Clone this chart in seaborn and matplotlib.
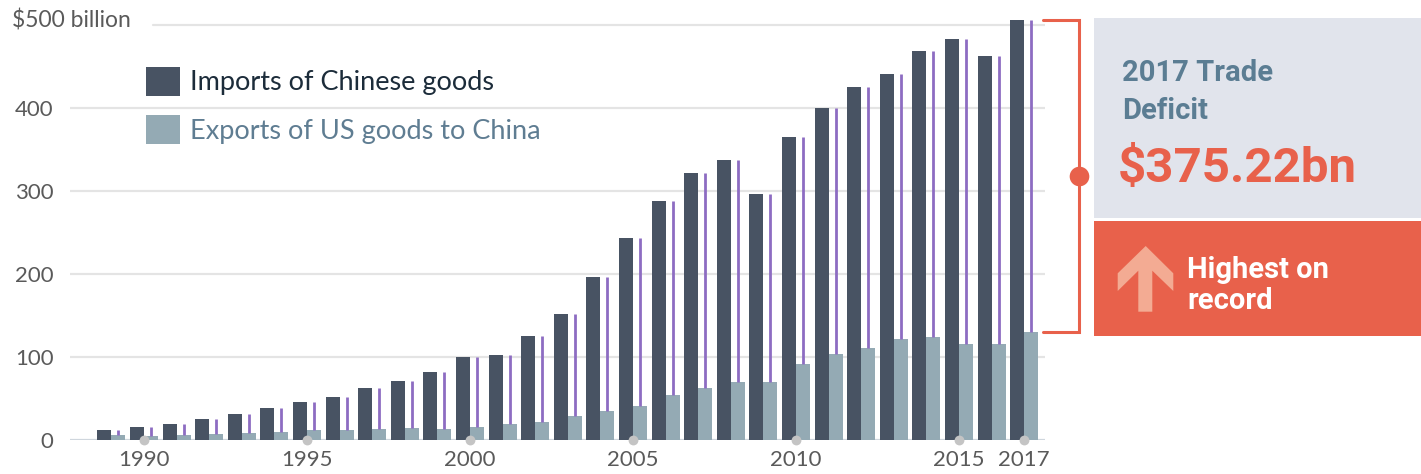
import matplotlib
matplotlib.use("Agg")
import matplotlib.pyplot as plt
import matplotlib.transforms as mtransforms
from matplotlib.patches import Patch, Rectangle, Polygon
import pandas as pd
import seaborn as sns

# US goods trade with China, $ billion
years = list(range(1989, 2018))
imports = [12.0, 15.2, 19.0, 25.7, 31.5, 38.8, 45.5, 51.5, 62.6, 71.2,
           81.8, 100.0, 102.3, 125.2, 152.4, 196.7, 243.5, 287.8, 321.4, 337.8,
           296.4, 364.9, 399.4, 425.6, 440.4, 468.5, 483.2, 462.4, 505.47]
exports = [5.8, 4.8, 6.3, 7.4, 8.8, 9.3, 11.8, 12.0, 12.9, 14.2,
           13.1, 16.2, 19.2, 22.1, 28.4, 34.4, 41.2, 53.7, 62.9, 69.7,
           69.5, 91.9, 104.1, 110.5, 121.7, 123.7, 115.9, 115.6, 130.25]
series_names = ["Imports of Chinese goods", "Exports of US goods to China"]
x_ticks = [1990, 1995, 2000, 2005, 2010, 2015, 2017]
y_ticks = [0, 100, 200, 300, 400]
y_top_tick = 500
y_top_label = "$500 billion"

C_IMP = "#485363"
C_EXP = "#94aab4"
C_GAP = "#8d6cc2"
C_RED = "#e8614b"
C_BOX = "#e1e4ec"
C_TXT = "#5a5a5a"

sns.set_style("white")
plt.rcParams["font.family"] = ["Lato", "DejaVu Sans"]

df = pd.DataFrame({
    "year": years * 2,
    "value": imports + exports,
    "series": [series_names[0]] * len(years) + [series_names[1]] * len(years),
})

W, H = 1421, 474
fig = plt.figure(figsize=(W / 100, H / 100), dpi=100)
fig.patch.set_facecolor("white")

# overlay in pixel units for the side panel
ov = fig.add_axes([0, 0, 1, 1], zorder=0)
ov.set_xlim(0, W)
ov.set_ylim(H, 0)
ov.axis("off")

ax = fig.add_axes([70 / W, 34 / H, 975 / W, 520 * 0.83 / H], zorder=1)
ax.patch.set_alpha(0)

bar_w = 0.86
sns.barplot(data=df, x="year", y="value", hue="series", hue_order=series_names,
            palette=[C_IMP, C_EXP], native_scale=True, width=bar_w,
            saturation=1, linewidth=0, errorbar=None, legend=False, ax=ax,
            zorder=2)

# deficit lines from exports up to imports, over the export bar
ax.vlines([y + bar_w / 4 for y in years], exports, imports,
          color=C_GAP, lw=2.0, zorder=3)

ax.set_xlim(1987.73, 2017.64)
ax.set_ylim(0, 520)
ax.set_xlabel("")
ax.set_ylabel("")
for s in ax.spines.values():
    s.set_visible(False)

# gridlines
for t in y_ticks:
    ax.axhline(t, color="#cfd6dd" if t == 0 else "#e4e4e4", lw=1.6, zorder=1)
ax.axhline(y_top_tick, xmin=(153 - 70) / 975, color="#e4e4e4", lw=1.6, zorder=1)

ax.set_yticks(y_ticks)
ax.set_yticklabels([str(t) for t in y_ticks])
ax.set_xticks(x_ticks)
ax.set_xticklabels([str(t) for t in x_ticks])
ax.tick_params(axis="y", length=0, pad=12, labelsize=16, labelcolor=C_TXT)
ax.tick_params(axis="x", length=0, pad=7, labelsize=16, labelcolor=C_TXT)

# year markers on the baseline
ax.scatter(x_ticks, [0] * len(x_ticks), s=50, color="#c4c4c4", zorder=5,
           clip_on=False, linewidths=0)

ov.text(12, 27, y_top_label, fontsize=16.5, color=C_TXT, va="baseline", ha="left")

# legend
handles = [Patch(facecolor=C_IMP, edgecolor="none"),
           Patch(facecolor=C_EXP, edgecolor="none")]
leg = ax.legend(handles, series_names, loc="upper left",
                bbox_to_anchor=(146 / W, 1 - 67 / H), bbox_transform=fig.transFigure,
                frameon=False, fontsize=19.5, handlelength=1.25, handleheight=1.25,
                handletextpad=0.36, labelspacing=0.72, borderpad=0, borderaxespad=0)
leg.get_texts()[0].set_color("#1c2c3a")
leg.get_texts()[1].set_color("#5f7d92")

# bracket spanning the 2017 gap
trans = mtransforms.blended_transform_factory(ax.transAxes, ax.transData)
bx0, bx1 = (1043 - 70) / 975, (1079 - 70) / 975
ax.plot([bx0, bx1, bx1, bx0], [imports[-1], imports[-1], exports[-1], exports[-1]],
        transform=trans, clip_on=False, color=C_RED, lw=2.2, zorder=4,
        solid_joinstyle="miter")
ax.scatter([bx1], [(imports[-1] + exports[-1]) / 2], transform=trans, s=200,
           color=C_RED, clip_on=False, zorder=5, linewidths=0)

# side panel
ov.add_patch(Rectangle((1094, 18), W - 1094, 200, facecolor=C_BOX, edgecolor="none"))
ov.add_patch(Rectangle((1094, 221), W - 1094, 115, facecolor=C_RED, edgecolor="none"))
ov.add_patch(Polygon([(1145.7, 246), (1117.7, 273.3), (1117.7, 291), (1138.3, 270.7),
                      (1138.3, 311.7), (1152.3, 311.7), (1152.3, 270.7),
                      (1173.3, 291), (1173.3, 273.3)],
                     closed=True, facecolor="#f3ab93", edgecolor="none"))

deficit = imports[-1] - exports[-1]
bold = dict(fontweight="bold", family=["Roboto", "DejaVu Sans"], va="baseline", ha="left")
ov.text(1122, 81, f"{years[-1]} Trade", fontsize=21, color="#5b7d93", **bold)
ov.text(1122, 119, "Deficit", fontsize=21, color="#5b7d93", **bold)
ov.text(1118, 182, f"${deficit:.2f}bn", fontsize=35.5, color=C_RED, **bold)
ov.text(1187, 278, "Highest on", fontsize=21, color="white", **bold)
ov.text(1187, 309, "record", fontsize=21, color="white", **bold)

fig.savefig("out.png", dpi=100)
